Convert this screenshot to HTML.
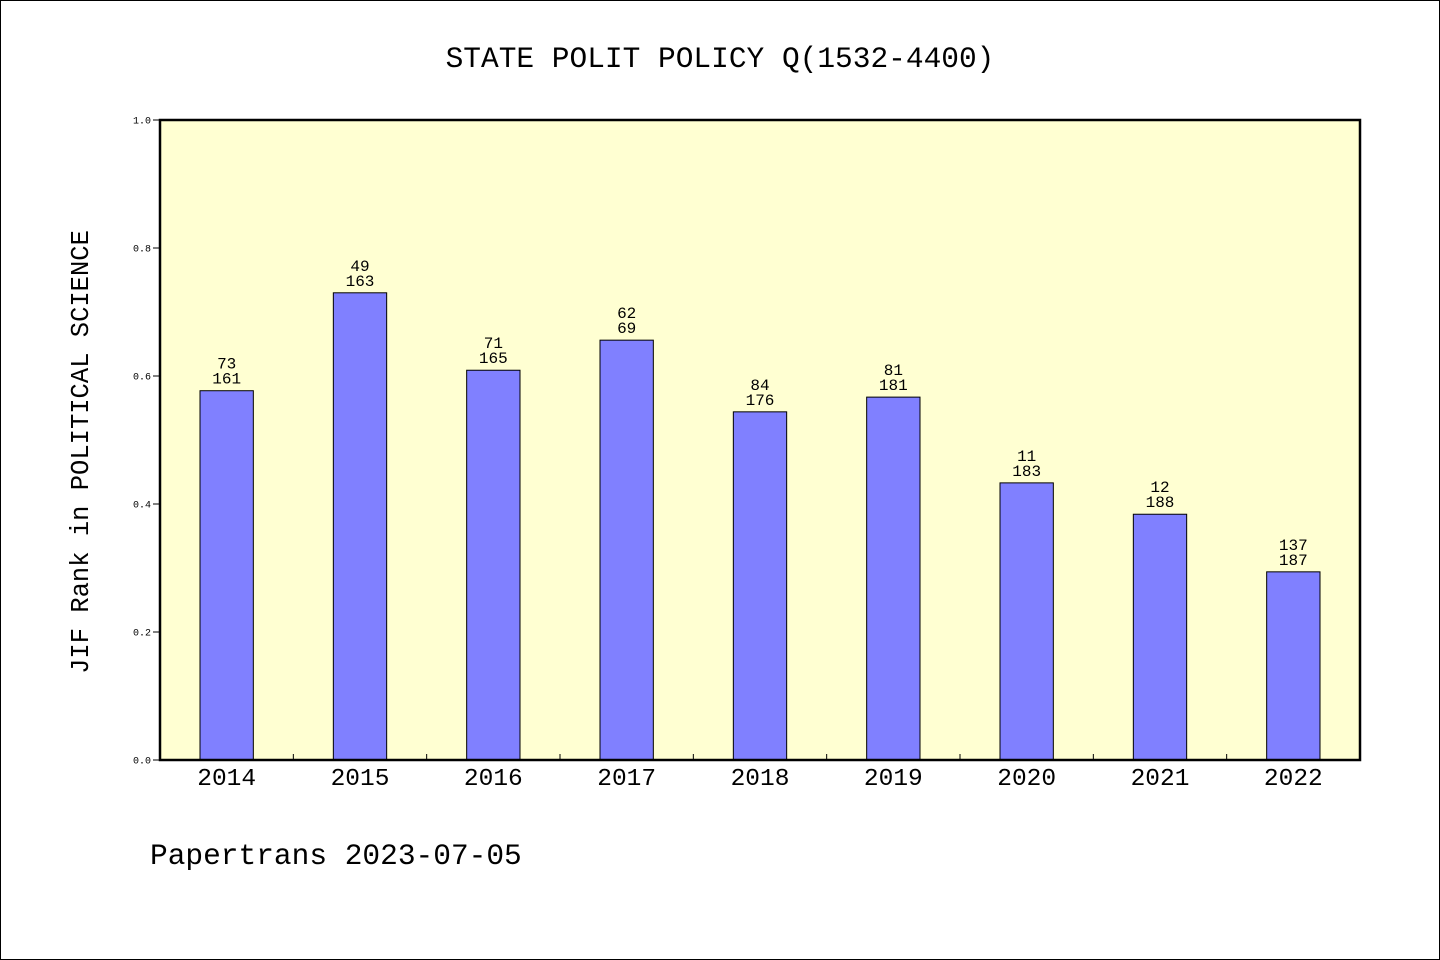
<!DOCTYPE html>
<html><head><meta charset="utf-8"><style>
html,body{margin:0;padding:0;background:#fff}
svg{display:block}
text{font-family:"Liberation Mono","WenQuanYi Zen Hei",monospace;fill:#000}
</style></head><body>
<svg width="1440" height="960" viewBox="0 0 1440 960">
<rect x="0.5" y="0.5" width="1439" height="959" fill="#fff" stroke="#000"/>
<text x="720" y="67" font-size="29.5" text-anchor="middle">STATE POLIT POLICY Q(1532-4400)</text>
<rect x="160" y="120" width="1200" height="640" fill="#ffffd2"/>
<g id="ticks"></g>
<g id="bars"></g>
<rect x="160" y="120" width="1200" height="640" fill="none" stroke="#000" stroke-width="2.5"/>
<text transform="translate(88,452) rotate(-90)" font-size="25.5" text-anchor="middle">JIF Rank in POLITICAL SCIENCE</text>
<text x="150" y="864" font-size="29.5">Papertrans 2023-07-05</text>
</svg>
<script>
const years = ["2014","2015","2016","2017","2018","2019","2020","2021","2022"];
const values = [0.577,0.730,0.609,0.656,0.544,0.567,0.433,0.384,0.294];
const ranks = ["73","49","71","62","84","81","11","12","137"];
const totals = ["161","163","165","69","176","181","183","188","187"];
const yTicks = [0,0.2,0.4,0.6,0.8,1.0];
const NS="http://www.w3.org/2000/svg";
const x0=160,x1=1360,y0=760,y1=120;
const slot=(x1-x0)/years.length;
const xc=i=>x0+slot*(i+0.5);
const ys=v=>y0-(v)*(y0-y1);
function mk(t,a,p){const e=document.createElementNS(NS,t);for(const k in a)e.setAttribute(k,a[k]);p.appendChild(e);return e;}
const tg=document.getElementById('ticks'),bg=document.getElementById('bars');
yTicks.forEach(v=>{
 const l=mk('line',{x1:153,x2:160,y1:ys(v),y2:ys(v),stroke:'#000'},tg);
 
 
 const t=mk('text',{x:151,y:ys(v)+3.5,'font-size':10,'text-anchor':'end'},tg);
 t.textContent=v.toFixed(1);
 
 
});
for(let i=1;i<years.length;i++){
 const l=mk('line',{x1:x0+slot*i,x2:x0+slot*i,y1:y0,y2:y0-6,stroke:'#000'},tg);
 
 
}
years.forEach((y,i)=>{
 const w=slot*0.4, top=ys(values[i]);
 const r=mk('rect',{x:xc(i)-w/2,y:top,width:w,height:y0-top,fill:'#8080ff',stroke:'#000','stroke-width':1},bg);
 
 
 const a=mk('text',{x:xc(i),y:top-22,'font-size':16,'text-anchor':'middle'},bg);
 a.textContent=ranks[i];
 
 
 const b=mk('text',{x:xc(i),y:top-7,'font-size':16,'text-anchor':'middle'},bg);
 b.textContent=totals[i];
 
 
 const t=mk('text',{x:xc(i),y:785,'font-size':24.5,'text-anchor':'middle'},bg);
 t.textContent=y;
 
 
});
</script>
</body></html>
